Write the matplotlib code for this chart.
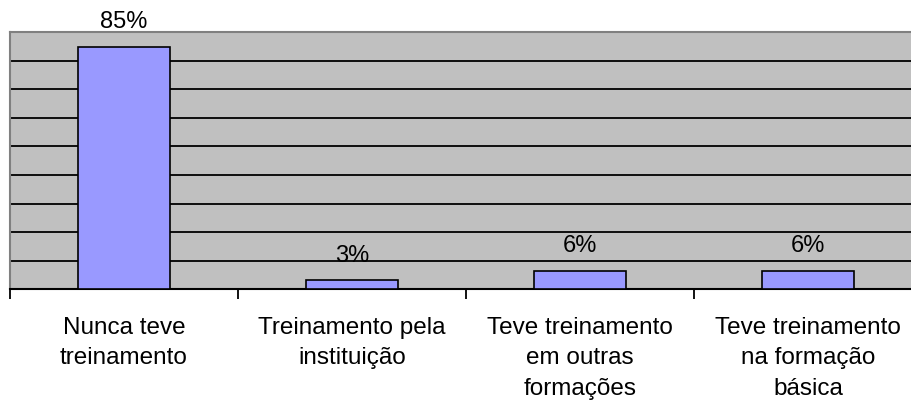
import matplotlib
matplotlib.use("Agg")
import matplotlib.pyplot as plt
import numpy as np

categories = ["Nunca teve\ntreinamento", "Treinamento pela\ninstituição",
              "Teve treinamento\nem outras\nformações", "Teve treinamento\nna formação\nbásica"]
values = [85, 3, 6.3, 6.3]
value_labels = ["85%", "3%", "6%", "6%"]

plt.rcParams['font.family'] = ['Liberation Sans', 'DejaVu Sans']

W, H = 912, 407
fig = plt.figure(figsize=(W / 100, H / 100), dpi=100)
left, right = 10, 922
top, bottom = 32.5, 289
ax = fig.add_axes([left / W, (H - bottom) / H, (right - left) / W, (bottom - top) / H])
ax.set_facecolor('#C0C0C0')

x = np.arange(len(categories))
ax.bar(x, values, width=0.40, color='#9999FF', edgecolor='black', linewidth=1.2, zorder=3)

ax.set_xlim(-0.5, len(categories) - 0.5)
ax.set_ylim(0, 90)
ax.set_yticks(np.arange(0, 91, 10))
ax.yaxis.grid(True, color='black', linewidth=1.3, zorder=1)
ax.set_axisbelow(True)
ax.tick_params(axis='y', length=0, labelleft=False)

ax.set_xticks(x)
ax.set_xticklabels(categories, fontsize=17.5, linespacing=1.5, va='top')
ax.tick_params(axis='x', which='major', length=0, pad=20)
ax.set_xticks(np.arange(-0.5, len(categories), 1), minor=True)
ax.tick_params(axis='x', which='minor', length=7, width=1.3, color='black', direction='out')

for sp in ['left', 'top']:
    ax.spines[sp].set_color('#808080')
    ax.spines[sp].set_linewidth(1.5)
ax.spines['right'].set_visible(False)
ax.spines['bottom'].set_color('black')
ax.spines['bottom'].set_linewidth(1.5)

for xi, v, lab in zip(x, values, value_labels):
    ax.annotate(lab, (xi, v), xytext=(0, 13.5), textcoords='offset points',
                ha='center', va='baseline', fontsize=17, annotation_clip=False)

fig.savefig('out.png', dpi=100)
